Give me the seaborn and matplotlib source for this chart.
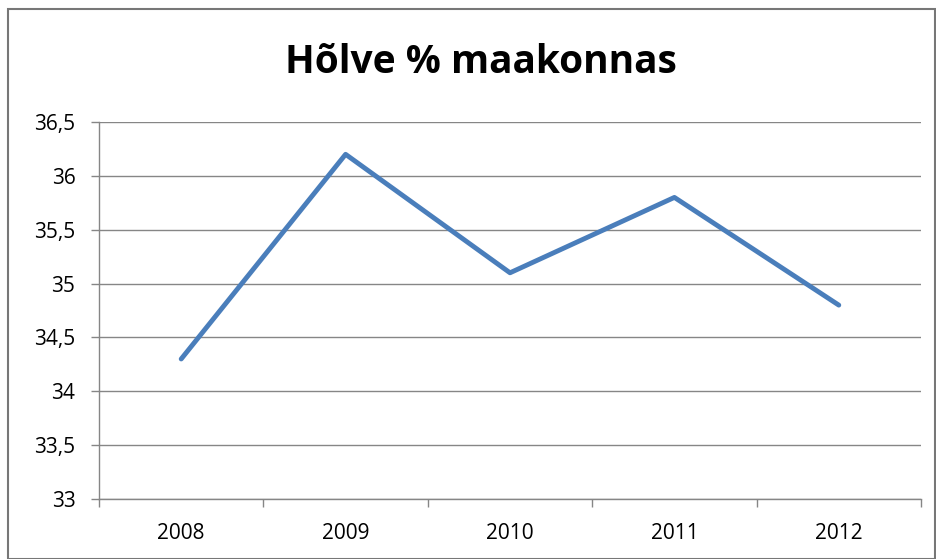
import matplotlib.pyplot as plt
import seaborn as sns
import pandas as pd
from matplotlib.patches import Rectangle
from matplotlib.ticker import FuncFormatter, FixedLocator

years = ['2008', '2009', '2010', '2011', '2012']
values = [34.3, 36.2, 35.1, 35.8, 34.8]
title = 'Hõlve % maakonnas'

df = pd.DataFrame({'year': years, 'value': values})

sns.set_style('white')
plt.rcParams['font.family'] = ['Open Sans', 'DejaVu Sans']
plt.rcParams['text.color'] = 'black'
plt.rcParams['xtick.color'] = 'black'
plt.rcParams['ytick.color'] = 'black'

fig = plt.figure(figsize=(9.37, 5.59), dpi=100)
ax = fig.add_axes([99 / 937, 1 - 499 / 559, 822 / 937, 377 / 559])

sns.lineplot(data=df, x='year', y='value', ax=ax, color='#4A7EBB',
             linewidth=3.5, sort=False)

ax.set_ylim(33, 36.5)
ax.set_xlim(-0.5, 4.5)
ax.set_yticks([33 + 0.5 * i for i in range(8)])
ax.yaxis.set_major_formatter(FuncFormatter(
    lambda v, p: ('%g' % v).replace('.', ',')))
ax.grid(axis='y', color='#868686', linewidth=1)
ax.set_axisbelow(True)

# ticks between categories, labels centred on them
ax.set_xticks(range(len(years)))
ax.set_xticklabels(years)
ax.tick_params(axis='x', which='major', length=0, labelsize=15, pad=17,
               labelcolor='black')
ax.xaxis.set_minor_locator(FixedLocator([i - 0.5 for i in range(len(years) + 1)]))
ax.tick_params(axis='x', which='minor', bottom=True, length=6, width=1,
               color='#868686', direction='out')
ax.tick_params(axis='y', left=True, length=6, width=1, color='#868686',
               labelsize=15, pad=11, labelcolor='black')

for side in ['top', 'right']:
    ax.spines[side].set_visible(False)
for side in ['left', 'bottom']:
    ax.spines[side].set_color('#868686')
    ax.spines[side].set_linewidth(1)

ax.set_xlabel('')
ax.set_ylabel('')

fig.text(481 / 937, 1 - 62 / 559, title, ha='center', va='center',
         fontsize=28, fontweight='bold', color='black')

fig.patches.append(Rectangle((8.5 / 937, 0), 927 / 937, 1 - 8.5 / 559,
                             transform=fig.transFigure, fill=False,
                             edgecolor='#777777', linewidth=1.5))

fig.savefig('out.png', dpi=100)
